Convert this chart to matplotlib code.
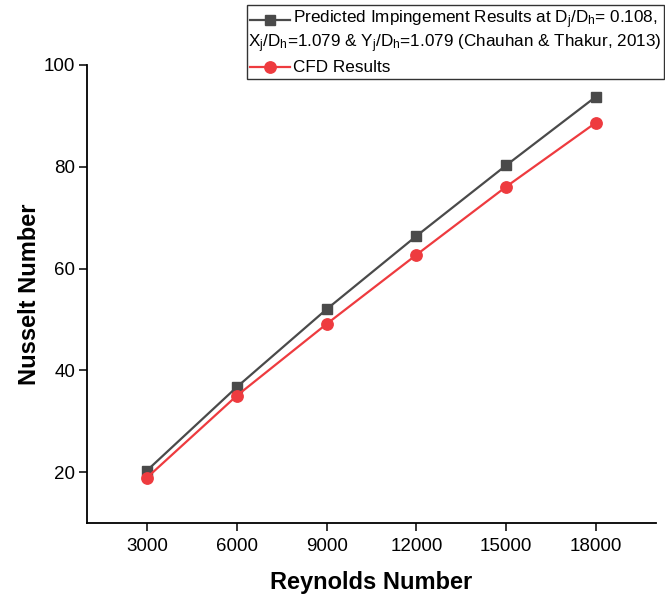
import matplotlib
matplotlib.use("Agg")
import matplotlib.pyplot as plt
from matplotlib.lines import Line2D
from matplotlib.patches import Rectangle

plt.rcParams['font.family'] = ['Liberation Sans', 'DejaVu Sans']
plt.rcParams['mathtext.fontset'] = 'custom'
plt.rcParams['mathtext.rm'] = 'Liberation Sans'
plt.rcParams['mathtext.it'] = 'Liberation Sans'

# data
reynolds = [3000, 6000, 9000, 12000, 15000, 18000]
nu_predicted = [20.3, 36.7, 52.0, 66.4, 80.3, 93.8]
nu_cfd = [18.9, 35.0, 49.1, 62.7, 76.1, 88.7]

label_pred_1 = r"Predicted Impingement Results at D$_\mathrm{j}$/D$_\mathrm{h}$= 0.108,"
label_pred_2 = r"X$_\mathrm{j}$/D$_\mathrm{h}$=1.079 & Y$_\mathrm{j}$/D$_\mathrm{h}$=1.079 (Chauhan & Thakur, 2013)"
label_cfd = "CFD Results"

grey = '#4a4a4a'
red = '#ee3b3f'

fig = plt.figure(figsize=(6.65, 6.01), dpi=100)
ax = fig.add_axes([87 / 665, 1 - 523 / 601, 569 / 665, 458 / 601])

ax.plot(reynolds, nu_predicted, color=grey, lw=1.6, marker='s', ms=7.3, zorder=3)
ax.plot(reynolds, nu_cfd, color=red, lw=1.6, marker='o', ms=8.2, zorder=3)

ax.set_xlim(1000, 20000)
ax.set_ylim(10, 100)
ax.set_xticks(reynolds)
ax.set_yticks([20, 40, 60, 80, 100])
ax.tick_params(direction='out', length=5.5, width=1.1, labelsize=13.5)
ax.tick_params(axis='y', pad=3)
ax.tick_params(axis='x', pad=5)
ax.spines['top'].set_visible(False)
ax.spines['right'].set_visible(False)
for s in ['left', 'bottom']:
    ax.spines[s].set_linewidth(1.3)

ax.set_xlabel("Reynolds Number", fontsize=17, fontweight='bold', labelpad=12)
ax.set_ylabel("Nusselt Number", fontsize=17, fontweight='bold', labelpad=2)

# legend box drawn by hand so the second line can hang under the handle
x0, x1 = 247 / 665, 664 / 665
y_top, y_bot = 1 - 5 / 601, 1 - 79 / 601
fig.patches.append(Rectangle((x0, y_bot), x1 - x0, y_top - y_bot, transform=fig.transFigure,
                             fill=False, edgecolor='#333333', lw=1.0))
hx0, hx1 = x0 + 3 / 665, x0 + 43 / 665
tx = x0 + 46 / 665
rows = [1 - 20 / 601, 1 - 44 / 601, 1 - 67 / 601]
fig.lines.append(Line2D([hx0, hx1], [rows[0]] * 2, transform=fig.transFigure, color=grey, lw=1.6))
fig.lines.append(Line2D([(hx0 + hx1) / 2], [rows[0]], transform=fig.transFigure, color=grey,
                        marker='s', ms=7.3, lw=0))
fig.lines.append(Line2D([hx0, hx1], [rows[2]] * 2, transform=fig.transFigure, color=red, lw=1.6))
fig.lines.append(Line2D([(hx0 + hx1) / 2], [rows[2]], transform=fig.transFigure, color=red,
                        marker='o', ms=8.2, lw=0))
fig.text(tx, rows[0], label_pred_1, fontsize=12.3, va='center')
fig.text(x0 + 1.5 / 665, rows[1], label_pred_2, fontsize=12.3, va='center')
fig.text(tx, rows[2], label_cfd, fontsize=12.3, va='center')

fig.savefig("out.png", dpi=100)
